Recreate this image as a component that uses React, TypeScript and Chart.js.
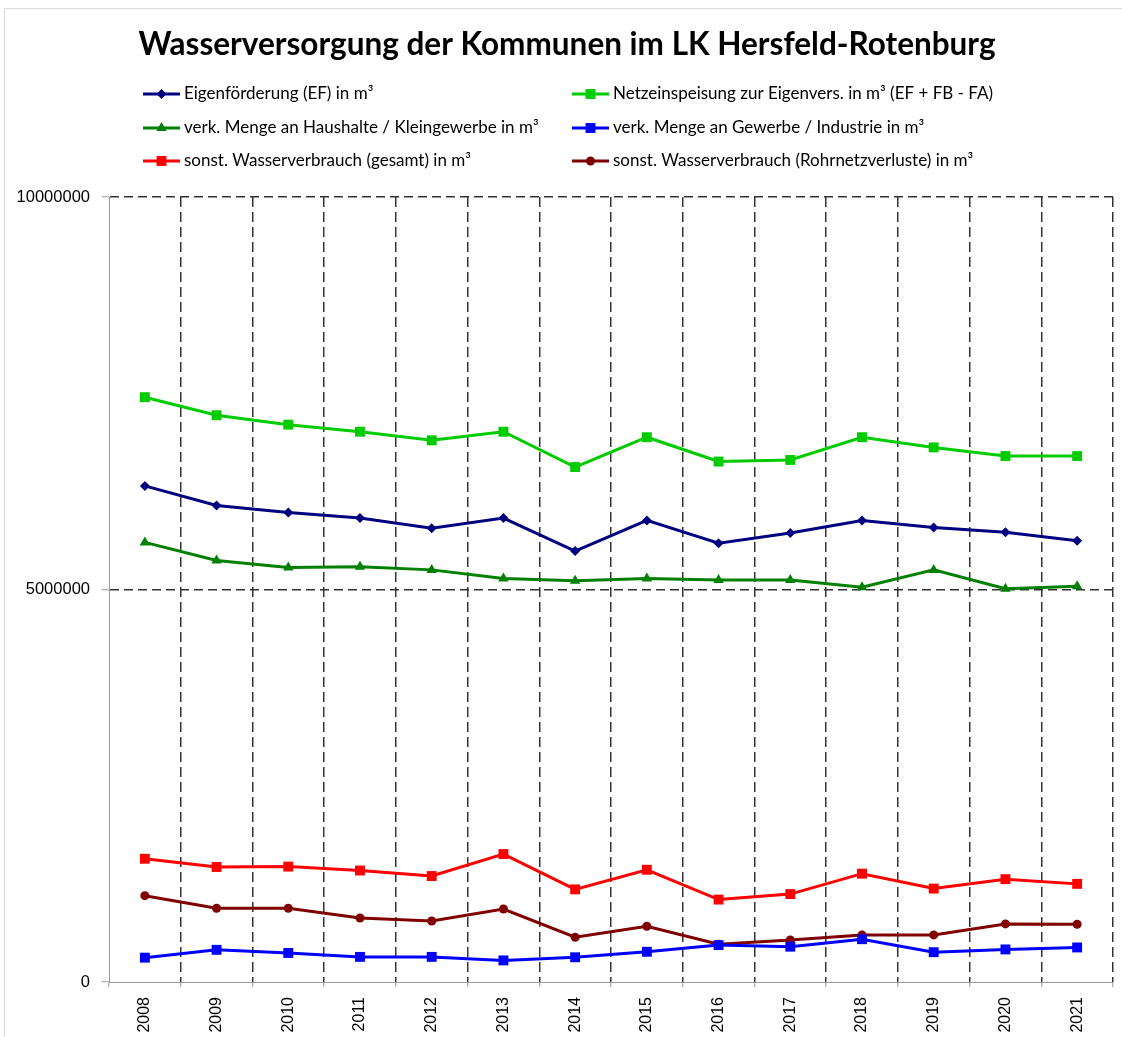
import React, { useEffect, useRef } from 'react';
import { Chart, registerables } from 'chart.js';

Chart.register(...registerables);

const TITLE = 'Wasserversorgung der Kommunen im LK Hersfeld-Rotenburg';

const years = ['2008', '2009', '2010', '2011', '2012', '2013', '2014', '2015', '2016', '2017', '2018', '2019', '2020', '2021'];

const seriesNames = [
  'Eigenförderung (EF) in m³',
  'Netzeinspeisung zur Eigenvers. in m³ (EF + FB - FA)',
  'verk. Menge an Haushalte / Kleingewerbe in m³',
  'verk. Menge an Gewerbe / Industrie in m³',
  'sonst. Wasserverbrauch (gesamt) in m³',
  'sonst. Wasserverbrauch (Rohrnetzverluste) in m³',
];

const eigenfoerderung = [6320000, 6070000, 5980000, 5910000, 5780000, 5910000, 5490000, 5880000, 5590000, 5720000, 5880000, 5790000, 5730000, 5620000];
const netzeinspeisung = [7450000, 7220000, 7100000, 7010000, 6900000, 7010000, 6560000, 6940000, 6630000, 6650000, 6940000, 6810000, 6700000, 6700000];
const haushalte = [5600000, 5370000, 5280000, 5290000, 5250000, 5140000, 5110000, 5140000, 5120000, 5120000, 5030000, 5250000, 5010000, 5040000];
const gewerbe = [310000, 410000, 370000, 320000, 320000, 275000, 315000, 385000, 470000, 450000, 545000, 380000, 415000, 440000];
const sonstGesamt = [1570000, 1465000, 1470000, 1420000, 1350000, 1630000, 1180000, 1430000, 1050000, 1120000, 1380000, 1190000, 1310000, 1250000];
const rohrnetz = [1100000, 940000, 940000, 815000, 777000, 930000, 570000, 710000, 480000, 535000, 600000, 600000, 740000, 735000];

const yTicks = [0, 5000000, 10000000];

const colors = ['#000080', '#00CC00', '#008000', '#0000FF', '#FF0000', '#800000'];
const pointStyles = ['rectRot', 'rect', 'triangle', 'rect', 'rect', 'circle'];
const pointRadii = [5, 7, 6, 7, 7, 4.5];

function drawMarker(ctx: CanvasRenderingContext2D, style: string, x: number, y: number, r: number, color: string) {
  ctx.save();
  ctx.fillStyle = color;
  ctx.beginPath();
  if (style === 'rectRot') {
    ctx.moveTo(x, y - r);
    ctx.lineTo(x + r, y);
    ctx.lineTo(x, y + r);
    ctx.lineTo(x - r, y);
    ctx.closePath();
  } else if (style === 'rect') {
    const s = Math.SQRT1_2 * r;
    ctx.rect(x - s, y - s, 2 * s, 2 * s);
  } else if (style === 'triangle') {
    ctx.moveTo(x, y - r);
    ctx.lineTo(x + Math.sin((2 * Math.PI) / 3) * r, y - Math.cos((2 * Math.PI) / 3) * r);
    ctx.lineTo(x + Math.sin((4 * Math.PI) / 3) * r, y - Math.cos((4 * Math.PI) / 3) * r);
    ctx.closePath();
  } else {
    ctx.arc(x, y, r, 0, Math.PI * 2);
  }
  ctx.fill();
  ctx.restore();
}

const decorPlugin = {
  id: 'decor',
  beforeDraw(chart: any) {
    const ctx: CanvasRenderingContext2D = chart.ctx;
    ctx.save();
    ctx.fillStyle = '#ffffff';
    ctx.fillRect(0, 0, chart.width, chart.height);
    ctx.strokeStyle = '#d9d9d9';
    ctx.lineWidth = 1;
    ctx.beginPath();
    ctx.moveTo(4.5, chart.height);
    ctx.lineTo(4.5, 8.5);
    ctx.lineTo(chart.width, 8.5);
    ctx.stroke();

    ctx.fillStyle = '#000000';
    ctx.font = 'bold 31.5px Lato';
    ctx.textAlign = 'center';
    ctx.textBaseline = 'middle';
    ctx.fillText(TITLE, 567, 45);

    const rowsY = [94, 128, 161];
    ctx.font = '17px Lato';
    ctx.textAlign = 'left';
    chart.data.datasets.forEach((ds: any, i: number) => {
      const col = i % 2;
      const row = Math.floor(i / 2);
      const x0 = col ? 572 : 143;
      const y = rowsY[row];
      ctx.strokeStyle = ds.borderColor;
      ctx.lineWidth = 3;
      ctx.beginPath();
      ctx.moveTo(x0, y);
      ctx.lineTo(x0 + 37, y);
      ctx.stroke();
      drawMarker(ctx, ds.pointStyle, x0 + 18.5, y, ds.pointRadius, ds.borderColor);
      ctx.fillStyle = '#000000';
      ctx.fillText(ds.label, x0 + 41, y);
    });
    ctx.restore();
  },
};

export default function App() {
  const canvasRef = useRef<HTMLCanvasElement | null>(null);

  useEffect(() => {
    if (!canvasRef.current) return;
    const allData = [eigenfoerderung, netzeinspeisung, haushalte, gewerbe, sonstGesamt, rohrnetz];
    const chart = new Chart(canvasRef.current, {
      type: 'line',
      data: {
        labels: years,
        datasets: allData.map((d, i) => ({
          label: seriesNames[i],
          data: d,
          borderColor: colors[i],
          backgroundColor: colors[i],
          borderWidth: 3,
          pointStyle: pointStyles[i] as any,
          pointRadius: pointRadii[i],
          pointHoverRadius: pointRadii[i],
          pointBorderWidth: 0,
          pointBackgroundColor: colors[i],
          tension: 0,
          fill: false,
        })),
      },
      options: {
        responsive: false,
        animation: false,
        devicePixelRatio: 1,
        layout: { padding: { top: 197, right: 9, left: 0, bottom: 0 } },
        plugins: {
          legend: { display: false },
          title: { display: false },
          tooltip: { enabled: false },
        },
        scales: {
          x: {
            type: 'category',
            offset: true,
            afterFit: (s: any) => {
              s.height = 55;
            },
            grid: {
              offset: true,
              color: (c: any) => (c.index === 0 ? 'rgba(0,0,0,0)' : '#333333'),
              lineWidth: 1.5,
              tickLength: 5,
              tickColor: '#999999',
              tickWidth: 1,
              drawTicks: true,
            },
            border: { display: true, color: '#999999', width: 1, dash: [10, 5] },
            ticks: {
              color: '#000000',
              font: { family: 'Liberation Sans', size: 16 },
              minRotation: 90,
              maxRotation: 90,
              padding: 10,
              autoSkip: false,
            },
          },
          y: {
            min: 0,
            max: 10000000,
            afterFit: (s: any) => {
              s.width = 109;
            },
            afterBuildTicks: (s: any) => {
              s.ticks = yTicks.map((v) => ({ value: v }));
            },
            grid: {
              color: (c: any) => (c.index === 0 ? 'rgba(0,0,0,0)' : '#333333'),
              lineWidth: 1.5,
              tickLength: 7,
              tickColor: '#999999',
              tickWidth: 1,
            },
            border: { display: true, color: '#999999', width: 1, dash: [9, 5] },
            ticks: {
              color: '#000000',
              font: { family: 'Liberation Sans', size: 16.5 },
              padding: 12,
              callback: (v: any) => String(v),
            },
          },
        },
      },
      plugins: [decorPlugin],
    });
    return () => chart.destroy();
  }, []);

  return (
    <div style={{ position: 'absolute', left: 0, top: 0, width: 1122, height: 1037, overflow: 'hidden' }}>
      <canvas ref={canvasRef} width={1122} height={1037} style={{ display: 'block' }} />
    </div>
  );
}
